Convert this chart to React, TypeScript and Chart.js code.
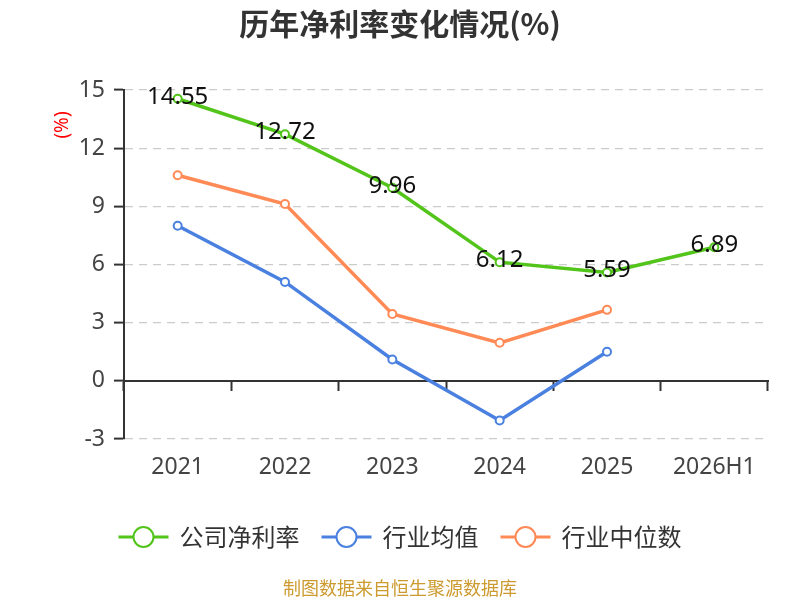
import React, { useEffect, useRef } from 'react';
import Chart from 'chart.js/auto';

// === Data ===
const YEARS = ['2021', '2022', '2023', '2024', '2025', '2026H1'];
const COMPANY_MARGIN = [14.55, 12.72, 9.96, 6.12, 5.59, 6.89];
const INDUSTRY_MEAN = [8.0, 5.1, 1.1, -2.05, 1.5, null];
const INDUSTRY_MEDIAN = [10.6, 9.12, 3.45, 1.96, 3.66, null];
const Y_TICKS = [-3, 0, 3, 6, 9, 12, 15];

const SERIES = [
  { label: '公司净利率', data: COMPANY_MARGIN, color: '#52c41a' },
  { label: '行业均值', data: INDUSTRY_MEAN, color: '#4a80e0' },
  { label: '行业中位数', data: INDUSTRY_MEDIAN, color: '#ff8a55' },
];

const FONT = '"Noto Sans", "Noto Sans CJK SC", sans-serif';
const CJK = '"Noto Sans CJK SC", "Noto Sans", sans-serif';

// === Overlay: title, axis unit, value labels, legend, source ===
const overlayPlugin = {
  id: 'overlay',
  afterDraw(chart: any) {
    const { ctx } = chart;
    ctx.save();

    // title
    ctx.fillStyle = '#333';
    ctx.font = `bold 30px ${CJK}`;
    ctx.textAlign = 'center';
    ctx.textBaseline = 'middle';
    ctx.fillText('历年净利率变化情况(%)', 400, 24);

    // y unit
    ctx.save();
    ctx.translate(63, 125);
    ctx.rotate(-Math.PI / 2);
    ctx.fillStyle = '#ff0000';
    ctx.font = `19px ${FONT}`;
    ctx.fillText('(%)', 0, 0);
    ctx.restore();

    // value labels on company series
    const meta = chart.getDatasetMeta(0);
    ctx.fillStyle = '#111';
    ctx.font = `24px ${FONT}`;
    meta.data.forEach((pt: any, i: number) => {
      const v = COMPANY_MARGIN[i];
      if (v == null) return;
      ctx.fillText(v.toFixed(2), pt.x, pt.y - 2);
    });

    // legend
    ctx.font = `24px ${CJK}`;
    const lineLen = 50;
    const textGap = 11;
    const itemGap = 22;
    const widths = SERIES.map(s => ctx.measureText(s.label).width);
    const total = widths.reduce((a, w) => a + lineLen + textGap + w, 0) + itemGap * (SERIES.length - 1);
    let x = 400 - total / 2;
    const ly = 537;
    SERIES.forEach((s, i) => {
      ctx.strokeStyle = s.color;
      ctx.lineWidth = 3;
      ctx.beginPath();
      ctx.moveTo(x, ly);
      ctx.lineTo(x + lineLen, ly);
      ctx.stroke();
      ctx.beginPath();
      ctx.arc(x + lineLen / 2, ly, 10, 0, Math.PI * 2);
      ctx.fillStyle = '#fff';
      ctx.fill();
      ctx.lineWidth = 2;
      ctx.stroke();
      ctx.fillStyle = '#333';
      ctx.textAlign = 'left';
      ctx.fillText(s.label, x + lineLen + textGap, ly);
      x += lineLen + textGap + widths[i] + itemGap;
    });

    // source
    ctx.textAlign = 'center';
    ctx.fillStyle = '#cc9a2e';
    ctx.font = `18px ${CJK}`;
    ctx.fillText('制图数据来自恒生聚源数据库', 400, 588);

    ctx.restore();
  },
};

const NetMarginChart: React.FC = () => {
  const canvasRef = useRef<HTMLCanvasElement>(null);

  useEffect(() => {
    document.body.style.margin = '0';
    if (!canvasRef.current) return;

    const chart = new Chart(canvasRef.current, {
      type: 'line',
      data: {
        labels: YEARS,
        datasets: SERIES.map(s => ({
          label: s.label,
          data: s.data,
          borderColor: s.color,
          backgroundColor: s.color,
          borderWidth: 3.5,
          pointRadius: 4,
          pointBorderWidth: 2,
          pointBackgroundColor: '#fff',
          pointBorderColor: s.color,
          tension: 0,
          xAxisID: 'x',
          yAxisID: 'y',
        })),
      },
      options: {
        responsive: true,
        maintainAspectRatio: false,
        animation: false,
        layout: { padding: { top: 90, right: 32, left: 0, bottom: 111 } },
        plugins: {
          legend: { display: false },
          tooltip: { enabled: false },
          title: { display: false },
        },
        scales: {
          x: {
            type: 'category',
            position: 'bottom',
            offset: true,
            grid: { display: false, drawTicks: false },
            border: { display: false },
            ticks: { color: '#444', font: { size: 23, family: FONT }, padding: 15 },
            afterFit: (s: any) => { s.height = 50; },
          },
          x0: {
            type: 'category',
            axis: 'x',
            position: { y: 0 },
            offset: true,
            grid: {
              display: true,
              drawOnChartArea: false,
              drawTicks: true,
              tickLength: 9,
              offset: true,
              tickColor: '#333',
              tickWidth: 2,
            },
            border: { display: true, color: '#333', width: 2 },
            ticks: { display: false },
            afterFit: (s: any) => { s.height = 0; },
          },
          y: {
            min: -3,
            max: 15,
            afterBuildTicks: (s: any) => { s.ticks = Y_TICKS.map(v => ({ value: v })); },
            grid: {
              color: '#cccccc',
              lineWidth: 1.2,
              tickLength: 10,
              tickColor: '#333',
              tickWidth: 2,
              tickBorderDash: [],
            },
            border: { display: true, color: '#333', width: 2, dash: [8, 6] },
            ticks: { color: '#444', font: { size: 23, family: FONT }, padding: 9 },
            afterFit: (s: any) => { s.width = 124; },
          },
        },
      } as any,
      plugins: [overlayPlugin],
    });

    return () => chart.destroy();
  }, []);

  return (
    <div style={{ position: 'relative', width: 800, height: 600, background: '#fff' }}>
      <canvas ref={canvasRef} />
    </div>
  );
};

export default function App() {
  return <NetMarginChart />;
}
